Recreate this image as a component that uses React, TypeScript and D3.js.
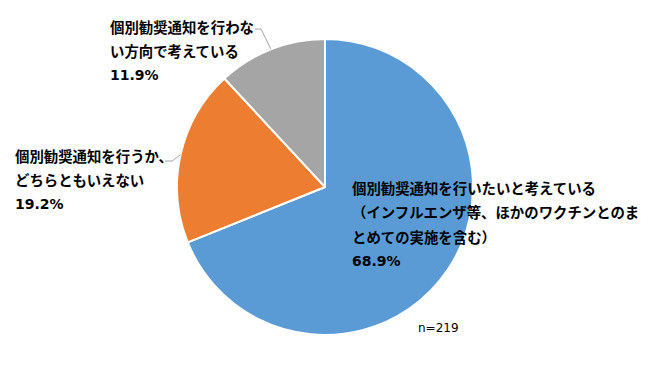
import React from "react";
import * as d3 from "d3";

const categories = [
  "個別勧奨通知を行いたいと考えている（インフルエンザ等、ほかのワクチンとのまとめての実施を含む）",
  "個別勧奨通知を行うか、どちらともいえない",
  "個別勧奨通知を行わない方向で考えている",
];
const values = [68.9, 19.2, 11.9];
const colors = ["#5B9BD5", "#ED7D31", "#A5A5A5"];
const labelLines = [
  ["個別勧奨通知を行いたいと考えている", "（インフルエンザ等、ほかのワクチンとのま", "とめての実施を含む）"],
  ["個別勧奨通知を行うか、", "どちらともいえない"],
  ["個別勧奨通知を行わな", "い方向で考えている"],
];
const percentLabels = ["68.9%", "19.2%", "11.9%"];
const sampleNote = "n=219";

const W = 650, H = 375;
const cx = 325, cy = 187, R = 148;
const font = "'Noto Sans CJK JP', 'Noto Sans', sans-serif";
const latin = "'DejaVu Sans', 'Noto Sans', sans-serif";

// label layout: left x, first line center y
const labelPos = [
  { x: 352, y: 187 },
  { x: 15, y: 155 },
  { x: 110, y: 26 },
];
const lineH = 24.5;

export default function App() {
  const pie = d3.pie<number>().sort(null).value((d) => d)(values);
  const arc = d3.arc<d3.PieArcDatum<number>>().innerRadius(0).outerRadius(R);
  const outer = d3.arc<d3.PieArcDatum<number>>().innerRadius(R).outerRadius(R);

  const leader = (i: number) => {
    const [ex, ey] = outer.centroid(pie[i]);
    if (i === 1) {
      return [[165, 161], [172, 161], [cx + ex, cy + ey]];
    }
    if (i === 2) {
      return [[255, 29], [261, 29], [cx + ex, cy + ey]];
    }
    return null;
  };

  return (
    <svg width={W} height={H} style={{ position: "absolute", left: 0, top: 0, background: "#fff" }}>
      <g transform={`translate(${cx},${cy})`}>
        {pie.map((p, i) => (
          <path key={categories[i]} d={arc(p) || ""} fill={colors[i]} stroke="#fff" strokeWidth={2} strokeLinejoin="round" />
        ))}
      </g>
      {pie.map((_, i) => {
        const pts = leader(i);
        if (!pts) return null;
        return (
          <polyline key={"l" + i} points={pts.map((p) => p.join(",")).join(" ")} fill="none" stroke="#A6A6A6" strokeWidth={1} />
        );
      })}
      {labelLines.map((lines, i) => (
        <text key={"t" + i} fontFamily={font} fontWeight="bold" fontSize={14.4} fill="#000">
          {lines.map((ln, j) => (
            <tspan key={j} x={labelPos[i].x} y={labelPos[i].y + j * lineH} dominantBaseline="central">
              {ln}
            </tspan>
          ))}
          <tspan x={labelPos[i].x} y={labelPos[i].y + lines.length * lineH} dominantBaseline="central" fontFamily={latin} fontSize={14}>
            {percentLabels[i]}
          </tspan>
        </text>
      ))}
      <text x={418} y={328} fontFamily={latin} fontSize={12} fill="#000" dominantBaseline="central">
        {sampleNote}
      </text>
    </svg>
  );
}
